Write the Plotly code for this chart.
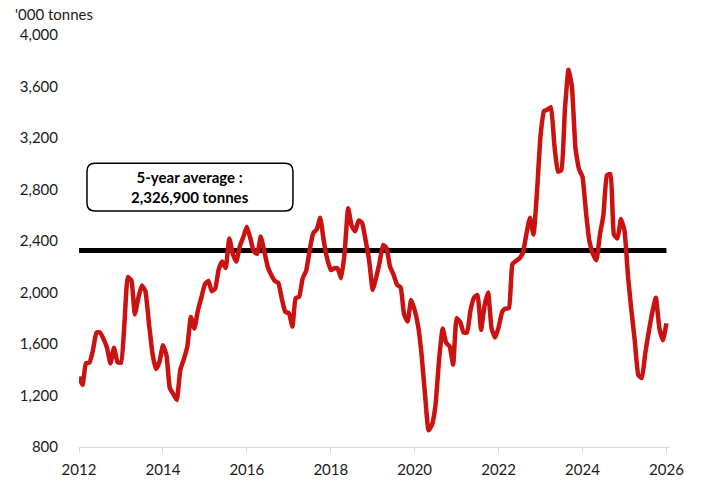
import pandas as pd
import plotly.graph_objects as go

# Monthly volumes, '000 tonnes, Jan 2012 -> Jan 2026
start_month = "2012-01-01"
volumes = [
    1346, 1282, 1450, 1455, 1550, 1690, 1690, 1640, 1570, 1450, 1570, 1460,   # 2012
    1455, 1780, 2120, 2095, 1830, 1960, 2055, 2010, 1760, 1530, 1405, 1460,   # 2013
    1590, 1510, 1260, 1210, 1165, 1400, 1480, 1580, 1810, 1720, 1860, 1960,   # 2014
    2065, 2090, 2010, 2030, 2180, 2240, 2190, 2420, 2300, 2240, 2360, 2430,   # 2015
    2510, 2420, 2320, 2300, 2434, 2320, 2200, 2136, 2090, 2075, 1950, 1850,   # 2016
    1840, 1735, 1955, 1968, 2110, 2170, 2330, 2460, 2490, 2580, 2400, 2260,   # 2017
    2175, 2188, 2188, 2111, 2305, 2655, 2520, 2475, 2560, 2540, 2400, 2250,   # 2018
    2020, 2120, 2230, 2370, 2345, 2200, 2140, 2060, 2040, 1830, 1775, 1942,   # 2019
    1864, 1735, 1520, 1200, 930, 975, 1130, 1480, 1720, 1610, 1580, 1440,     # 2020
    1800, 1770, 1690, 1690, 1860, 1960, 1980, 1710, 1900, 2000, 1720, 1650,   # 2021
    1730, 1850, 1875, 1880, 2220, 2245, 2265, 2310, 2460, 2580, 2450, 2780,   # 2022
    3220, 3410, 3420, 3440, 3150, 2940, 2950, 3420, 3730, 3600, 3120, 2960,   # 2023
    2900, 2620, 2400, 2300, 2250, 2450, 2600, 2910, 2920, 2450, 2420, 2570,   # 2024
    2480, 2120, 1870, 1620, 1360, 1335, 1530, 1700, 1850, 1960, 1720, 1630,   # 2025
    1760,                                                                     # 2026
]
five_year_avg = 2326.9
avg_label = "5-year average :<br>2,326,900 tonnes"

y_ticks = [800, 1200, 1600, 2000, 2400, 2800, 3200, 3600, 4000]
x_ticks = [str(y) for y in range(2012, 2027, 2)]

months = pd.date_range(start_month, periods=len(volumes), freq="MS")

FONT = "Lato, 'Open Sans', sans-serif"

fig = go.Figure()

# 5-year average line (drawn first so the red series sits on top)
fig.add_trace(go.Scatter(
    x=[months[0], months[-1]], y=[five_year_avg, five_year_avg],
    mode="lines", line=dict(color="#000000", width=5),
    hoverinfo="skip", showlegend=False,
))

# Monthly series
fig.add_trace(go.Scatter(
    x=months, y=volumes, mode="lines",
    line=dict(color="#cc1111", width=4.5, shape="spline", smoothing=0.4),
    showlegend=False,
))

# Rounded box behind the average label
x0, x1, y0, y1 = 0.0135, 0.362, 0.573, 0.689
rx, ry = 0.0135, 0.0194
box_path = (
    f"M {x0+rx},{y1} L {x1-rx},{y1} Q {x1},{y1} {x1},{y1-ry} "
    f"L {x1},{y0+ry} Q {x1},{y0} {x1-rx},{y0} "
    f"L {x0+rx},{y0} Q {x0},{y0} {x0},{y0+ry} "
    f"L {x0},{y1-ry} Q {x0},{y1} {x0+rx},{y1} Z"
)
fig.add_shape(type="path", path=box_path, xref="paper", yref="paper",
              line=dict(color="#000000", width=1.5), fillcolor="white", layer="above")

fig.add_annotation(
    text=f"<b>{avg_label}</b>", xref="paper", yref="paper",
    x=(x0 + x1) / 2, y=(y0 + y1) / 2, xanchor="center", yanchor="middle",
    showarrow=False, align="center",
    font=dict(family=FONT, size=15, color="#000000"),
)

# Unit label
fig.add_annotation(
    text="'000 tonnes", xref="paper", yref="paper", x=-0.112, y=1.051,
    xanchor="left", yanchor="middle", showarrow=False,
    font=dict(family=FONT, size=15, color="#1a1a1a"),
)

# page body adds 8px, so margins are offset to keep the plot where it belongs
fig.update_layout(
    width=702, height=486,
    margin=dict(l=71, r=40, t=27, b=47),
    plot_bgcolor="white", paper_bgcolor="white",
    font=dict(family=FONT, size=15, color="#1a1a1a"),
    xaxis=dict(
        range=["2012-01-01", "2026-02-01"],
        tickvals=[pd.Timestamp(f"{t}-01-01") for t in x_ticks],
        ticktext=x_ticks,
        showgrid=False, zeroline=False,
        showline=True, linecolor="#d9d9d9", linewidth=1,
        ticks="outside", ticklen=5, tickcolor="#d9d9d9",
        ticklabelstandoff=4, automargin=False,
    ),
    yaxis=dict(
        range=[800, 4000],
        tickvals=y_ticks,
        tickformat=",d",
        showgrid=False, zeroline=False, showline=False,
        ticks="", ticklabelstandoff=20, automargin=False,
    ),
)

fig.write_html("out.html")
